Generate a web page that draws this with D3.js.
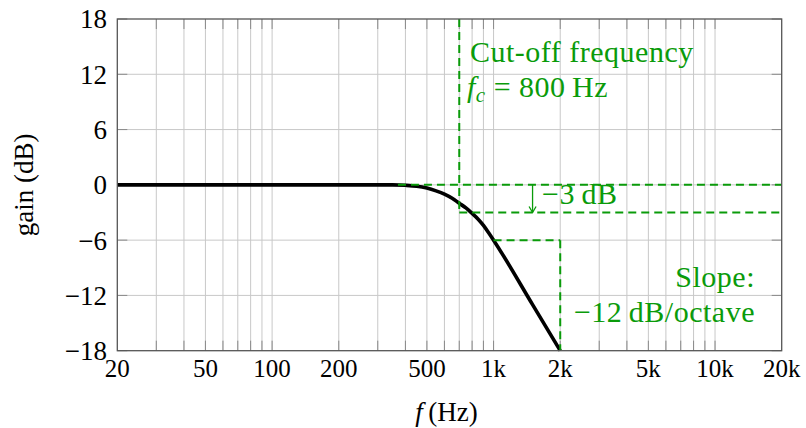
<!DOCTYPE html>
<html><head><meta charset="utf-8">
<script src="https://cdn.jsdelivr.net/npm/d3@7"></script>
<style>
body{margin:0;background:#fff}
text{font-family:"Liberation Serif","DejaVu Serif",serif;}
</style>
</head><body><svg id="c" width="806" height="428"></svg>
<script>
// ---- data ----
const freq = [20, 350, 400, 450, 500, 550, 600, 650, 700, 750, 800, 850, 900, 950, 1000, 1500, 2000];
const gain = [0, 0, -0.05, -0.15, -0.35, -0.65, -1.0, -1.45, -2.0, -2.5, -3.1, -3.7, -4.4, -5.2, -6.0, -13.0, -18.0];
const xTickValues = [20, 50, 100, 200, 500, 1000, 2000, 5000, 10000, 20000];
const xTickLabels = ["20", "50", "100", "200", "500", "1k", "2k", "5k", "10k", "20k"];
const xGridValues = [30,40,50,60,70,80,90,100,200,300,400,500,600,700,800,900,1000,2000,3000,4000,5000,6000,7000,8000,9000,10000];
const yTickValues = [-18, -12, -6, 0, 6, 12, 18];
// annotations (data coordinates)
const cutoffF = 700;            // vertical dashed marker
const cutoffRange = [-3, 18];
const levelLines = [0, -3];     // horizontal dashed levels
const levelStarts = [370, 700]; // frequency where each level line starts
const arrowF = 1500;            // -3 dB arrow
const slopeF = [1000, 2000];
const slopeG = [-6, -18];

const W = 806, H = 428;
const m = {l: 117.3, t: 19, r: 806 - 781.7, b: 428 - 350.7};
const svg = d3.select("#c");
const x = d3.scaleLog().domain([20, 20000]).range([m.l, W - m.r]);
const y = d3.scaleLinear().domain([-18, 18]).range([H - m.b, m.t]);
const green = "#0a9b0a";

// grid
const g = svg.append("g");
g.selectAll(".gx").data(xGridValues).join("line")
  .attr("x1", d => x(d)).attr("x2", d => x(d)).attr("y1", y(-18)).attr("y2", y(18))
  .attr("stroke", "#c8c8c8").attr("stroke-width", 1);
g.selectAll(".gy").data(yTickValues.slice(1, -1)).join("line")
  .attr("y1", d => y(d)).attr("y2", d => y(d)).attr("x1", x(20)).attr("x2", x(20000))
  .attr("stroke", "#c8c8c8").attr("stroke-width", 1);
// tick marks inside
const tl = 10;
const tc = "#8a8a8a";
g.selectAll(".tb").data(xGridValues).join("line")
  .attr("x1", d => x(d)).attr("x2", d => x(d)).attr("y1", y(-18)).attr("y2", y(-18) - tl)
  .attr("stroke", tc).attr("stroke-width", 1);
g.selectAll(".tt").data(xGridValues).join("line")
  .attr("x1", d => x(d)).attr("x2", d => x(d)).attr("y1", y(18)).attr("y2", y(18) + tl)
  .attr("stroke", tc).attr("stroke-width", 1);
g.selectAll(".tl").data(yTickValues).join("line")
  .attr("y1", d => y(d)).attr("y2", d => y(d)).attr("x1", x(20)).attr("x2", x(20) + tl)
  .attr("stroke", tc).attr("stroke-width", 1);
g.selectAll(".tr").data(yTickValues).join("line")
  .attr("y1", d => y(d)).attr("y2", d => y(d)).attr("x1", x(20000)).attr("x2", x(20000) - tl)
  .attr("stroke", tc).attr("stroke-width", 1);

// curve
const pts = freq.map((f, i) => [f, gain[i]]);
svg.append("path").datum(pts)
  .attr("d", d3.line().x(d => x(d[0])).y(d => y(d[1])).curve(d3.curveMonotoneX))
  .attr("fill", "none").attr("stroke", "#000").attr("stroke-width", 3.6).attr("stroke-linejoin", "round");

// green annotations (drawn over the curve)
const dash = "8,5";
const ann = svg.append("g").attr("stroke", green).attr("stroke-width", 2).attr("fill", "none").attr("stroke-dasharray", dash);
ann.append("line").attr("x1", x(cutoffF)).attr("x2", x(cutoffF)).attr("y1", y(cutoffRange[1])).attr("y2", y(cutoffRange[0]));
levelLines.forEach((lv, i) => {
  ann.append("line").attr("x1", x(levelStarts[i])).attr("x2", x(20000)).attr("y1", y(lv)).attr("y2", y(lv));
});
ann.append("line").attr("x1", x(slopeF[0])).attr("x2", x(slopeF[1])).attr("y1", y(slopeG[0])).attr("y2", y(slopeG[0]));
ann.append("line").attr("x1", x(slopeF[1])).attr("x2", x(slopeF[1])).attr("y1", y(slopeG[0])).attr("y2", y(slopeG[1]));
// arrow
const ar = svg.append("g").attr("stroke", green).attr("stroke-width", 1.3).attr("fill", "none");
ar.append("line").attr("x1", x(arrowF)).attr("x2", x(arrowF)).attr("y1", y(levelLines[0])).attr("y2", y(levelLines[1]));
ar.append("path").attr("d", `M${x(arrowF) - 3.5},${y(levelLines[1]) - 6} L${x(arrowF)},${y(levelLines[1])} L${x(arrowF) + 3.5},${y(levelLines[1]) - 6}`);

// frame
svg.append("rect").attr("x", x(20)).attr("y", y(18)).attr("width", x(20000) - x(20)).attr("height", y(-18) - y(18))
  .attr("fill", "none").attr("stroke", "#555").attr("stroke-width", 1.3);

// tick labels
const fs = 27;
svg.append("g").selectAll("text").data(xTickValues).join("text")
  .attr("x", d => x(d)).attr("y", 377).attr("text-anchor", "middle").attr("font-size", 25)
  .text((d, i) => xTickLabels[i]);
const yfmt = d3.format("d");
svg.append("g").selectAll("text").data(yTickValues).join("text")
  .attr("x", 107).attr("y", d => y(d)).attr("dy", "0.35em").attr("text-anchor", "end").attr("font-size", fs)
  .text(d => yfmt(d));

// axis titles
svg.append("text").attr("transform", `translate(33,${y(0)}) rotate(-90)`).attr("text-anchor", "middle")
  .attr("font-size", fs).text("gain (dB)");
const xt = svg.append("text").attr("x", (x(20) + x(20000)) / 2 - 3).attr("y", 421).attr("text-anchor", "middle").attr("font-size", fs);
xt.append("tspan").attr("font-style", "italic").text("f");
xt.append("tspan").text("\u2009(Hz)");

// annotation texts
const af = 30;
const ls = "0.5px";
svg.append("text").attr("x", 470).attr("y", 61.5).attr("font-size", af).attr("letter-spacing", ls).attr("fill", green).text("Cut-off frequency");
const fc = svg.append("text").attr("x", 467).attr("y", 96.5).attr("font-size", af).attr("letter-spacing", ls).attr("fill", green);
fc.append("tspan").attr("font-style", "italic").text("f");
fc.append("tspan").attr("font-style", "italic").attr("font-size", 21).attr("dy", 5).text("c");
fc.append("tspan").attr("dy", -5).text(" = 800\u2009Hz");
svg.append("text").attr("x", 542).attr("y", 204).attr("font-size", af).attr("letter-spacing", ls).attr("fill", green).text("\u22123\u2009dB");
svg.append("text").attr("x", 755).attr("y", 286.5).attr("text-anchor", "end").attr("font-size", af).attr("letter-spacing", ls).attr("fill", green).text("Slope:");
svg.append("text").attr("x", 755).attr("y", 321.5).attr("text-anchor", "end").attr("font-size", af).attr("letter-spacing", ls).attr("fill", green).text("\u221212\u2009dB/octave");
</script>
</body></html>
